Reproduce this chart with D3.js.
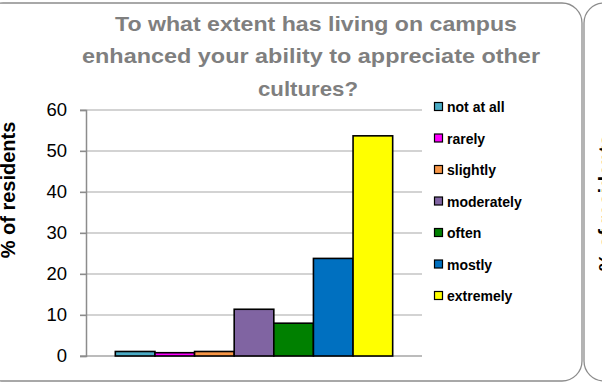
<!DOCTYPE html>
<html>
<head>
<meta charset="utf-8">
<script src="https://cdn.jsdelivr.net/npm/d3@7"></script>
<style>
body { margin: 0; background: #fff; }
text { font-family: "Liberation Sans", Arial, sans-serif; }
</style>
</head>
<body>
<script>
// chart data
var categories = ["not at all", "rarely", "slightly", "moderately", "often", "mostly", "extremely"];
var values = [1.1, 0.8, 1.1, 11.4, 8.0, 23.8, 53.7];
var colors = ["#4bacc6", "#ff00ff", "#f79646", "#8064a2", "#008000", "#0070c0", "#ffff00"];
var yTicks = [0, 10, 20, 30, 40, 50, 60];
var titleLines = ["To what extent has living on campus", "enhanced your ability to appreciate other", "cultures?"];
var yTitle = "% of residents";

var width = 602, height = 383;

var svg = d3.select("body").append("svg")
    .attr("width", width)
    .attr("height", height);

// chart frames (this one, and the edge of the next one)
svg.append("rect")
    .attr("x", -17).attr("y", 3).attr("width", 599).attr("height", 378)
    .attr("rx", 20).attr("ry", 20)
    .attr("fill", "#fff").attr("stroke", "#8c8c8c").attr("stroke-width", 1.3);
svg.append("rect")
    .attr("x", 584).attr("y", 3).attr("width", 100).attr("height", 378)
    .attr("rx", 20).attr("ry", 20)
    .attr("fill", "#fff").attr("stroke", "#8c8c8c").attr("stroke-width", 1.3);

// scales
var x = d3.scaleBand().domain(categories).range([86, 422]).paddingInner(0).paddingOuter(0.74);
var y = d3.scaleLinear().domain([0, 60]).range([356, 110]);

// gridlines
svg.append("g").selectAll("line").data(yTicks).enter().append("line")
    .attr("x1", 80).attr("x2", 422)
    .attr("y1", function(d) { return y(d); })
    .attr("y2", function(d) { return y(d); })
    .attr("stroke", function(d) { return d === 0 ? "#a6a6a6" : "#c4c4c4"; })
    .attr("stroke-width", 1.3);

// y axis
var yAxis = d3.axisLeft(y).tickValues(yTicks).tickSize(6).tickPadding(13);
var ga = svg.append("g").attr("transform", "translate(86,0)").call(yAxis);
ga.select(".domain").attr("stroke", "#8c8c8c").attr("stroke-width", 1.5);
ga.selectAll(".tick line").attr("stroke", "#8c8c8c").attr("stroke-width", 1.3);
ga.selectAll(".tick text")
    .attr("fill", "#000")
    .style("font-family", "'Liberation Sans', Arial, sans-serif")
    .style("font-size", "18.5px");

// bars
svg.append("g").selectAll("rect").data(values).enter().append("rect")
    .attr("x", function(d, i) { return x(categories[i]); })
    .attr("width", x.bandwidth())
    .attr("y", function(d) { return y(d); })
    .attr("height", function(d) { return y(0) - y(d); })
    .attr("fill", function(d, i) { return colors[i]; })
    .attr("stroke", "#000")
    .attr("stroke-width", 1.6);

// title
var titleX = [316, 311, 308];
var titleW = [402, 458, 100];
svg.append("g").selectAll("text").data(titleLines).enter().append("text")
    .attr("x", function(d, i) { return titleX[i]; })
    .attr("y", function(d, i) { return 30.5 + i * 32.5; })
    .attr("text-anchor", "middle")
    .attr("textLength", function(d, i) { return titleW[i]; })
    .attr("lengthAdjust", "spacingAndGlyphs")
    .attr("fill", "#7f7f7f")
    .style("font-weight", "bold")
    .style("font-size", "21px")
    .text(function(d) { return d; });

// y axis title (partly cut by the left edge, as in the original)
svg.append("text")
    .attr("transform", "translate(14.5,190) rotate(-90)")
    .attr("text-anchor", "middle")
    .style("font-weight", "bold")
    .style("font-size", "20px")
    .text(yTitle);

// y axis title of the neighbouring chart, cut off at the edge
svg.append("text")
    .attr("transform", "translate(613,203) rotate(-90)")
    .attr("text-anchor", "middle")
    .style("font-weight", "bold")
    .style("font-size", "20px")
    .text(yTitle);

// legend
var ly = d3.scalePoint().domain(categories).range([107, 296]);
var lg = svg.append("g").selectAll("g").data(categories).enter().append("g")
    .attr("transform", function(d) { return "translate(434," + ly(d) + ")"; });
lg.append("rect")
    .attr("x", 0.5).attr("y", -4.5).attr("width", 8).attr("height", 8)
    .attr("fill", function(d, i) { return colors[i]; })
    .attr("stroke", "#000").attr("stroke-width", 1.2);
lg.append("text")
    .attr("x", 13).attr("y", 5)
    .style("font-weight", "bold")
    .style("font-size", "14px")
    .text(function(d) { return d; });
</script>
</body>
</html>
